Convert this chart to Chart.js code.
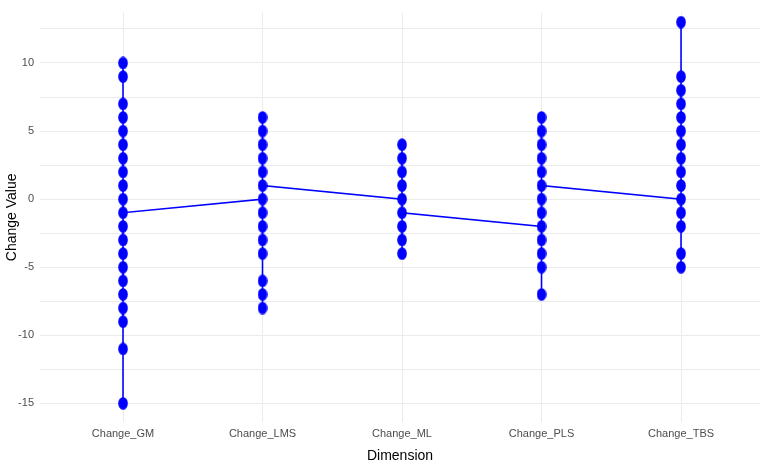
<!DOCTYPE html>
<html>
<head>
<meta charset="utf-8">
<script src="https://cdn.jsdelivr.net/npm/chart.js@4"></script>
<style>
  html, body { margin: 0; padding: 0; background: #fff; }
  #wrap { width: 767px; height: 465px; }
</style>
</head>
<body>
<div id="wrap"><canvas id="chart"></canvas></div>
<script>
// categories on the x axis
var categories = ["Change_GM", "Change_LMS", "Change_ML", "Change_PLS", "Change_TBS"];

// values seen at each category
var gmValues  = [10, 9, 7, 6, 5, 4, 3, 2, 1, 0, -1, -2, -3, -4, -5, -6, -7, -8, -9, -11, -15];
var lmsValues = [6, 5, 4, 3, 2, 1, 0, -1, -2, -3, -4, -6, -7, -8];
var mlValues  = [4, 3, 2, 1, 0, -1, -2, -3, -4];
var plsValues = [6, 5, 4, 3, 2, 1, 0, -1, -2, -3, -4, -5, -7];
var tbsValues = [13, 9, 8, 7, 6, 5, 4, 3, 2, 1, 0, -1, -2, -4, -5];

// where the connecting line enters / leaves each category
var lineEntry = [10, 0, 0, -2, 0];
var lineExit  = [-1, 1, -1, 1, 13];

var yTicks = [-15, -10, -5, 0, 5, 10];

var allValues = [gmValues, lmsValues, mlValues, plsValues, tbsValues];

var points = [];
var path = [];
for (var i = 0; i < categories.length; i++) {
    var vals = allValues[i];
    for (var j = 0; j < vals.length; j++) {
        points.push({x: i, y: vals[j]});
    }
    var mx = Math.max.apply(null, vals);
    var mn = Math.min.apply(null, vals);
    path.push({x: i, y: lineEntry[i]});
    path.push({x: i, y: mx});
    path.push({x: i, y: mn});
    path.push({x: i, y: lineExit[i]});
}

// ellipse shaped marker
var dot = document.createElement("canvas");
dot.width = 10;
dot.height = 13;
var dctx = dot.getContext("2d");
dctx.fillStyle = "#0000ff";
dctx.beginPath();
dctx.ellipse(5, 6.5, 4.8, 6.3, 0, 0, Math.PI * 2);
dctx.fill();

var ctx = document.getElementById("chart");

var chart = new Chart(ctx, {
    type: "scatter",
    data: {
        datasets: [
            {
                label: "line",
                data: path,
                showLine: true,
                borderColor: "#0000ff",
                borderWidth: 1.6,
                pointRadius: 0,
                fill: false,
                order: 1
            },
            {
                label: "points",
                data: points,
                pointStyle: dot,
                pointRadius: 6,
                backgroundColor: "#0000ff",
                borderColor: "#0000ff",
                order: 2
            }
        ]
    },
    options: {
        responsive: true,
        maintainAspectRatio: false,
        animation: false,
        layout: {
            padding: {top: 3, right: 0, left: 0, bottom: 0}
        },
        plugins: {
            legend: {display: false},
            tooltip: {enabled: false}
        },
        scales: {
            x: {
                type: "linear",
                min: -0.595,
                max: 4.566,
                afterBuildTicks: function (scale) {
                    scale.ticks = categories.map(function (c, k) { return {value: k}; });
                },
                afterFit: function (scale) { scale.height = 43; },
                ticks: {
                    color: "#4d4d4d",
                    font: {family: "Liberation Sans", size: 11},
                    padding: 5,
                    maxRotation: 0,
                    callback: function (v) { return categories[v]; }
                },
                grid: {color: "#ebebeb", lineWidth: 1, drawTicks: false},
                border: {display: false},
                title: {
                    display: true,
                    text: "Dimension",
                    color: "#000",
                    font: {family: "Liberation Sans", size: 14},
                    padding: {top: 2, bottom: 0}
                }
            },
            y: {
                min: -16.37,
                max: 13.7,
                afterBuildTicks: function (scale) {
                    var t = [];
                    for (var v = -15; v <= 12.5; v += 2.5) t.push({value: v});
                    scale.ticks = t;
                },
                afterFit: function (scale) { scale.width = 40; },
                ticks: {
                    color: "#4d4d4d",
                    font: {family: "Liberation Sans", size: 11},
                    padding: 6,
                    callback: function (v) { return yTicks.indexOf(v) >= 0 ? String(v) : ""; }
                },
                grid: {color: "#ebebeb", lineWidth: 1, drawTicks: false},
                border: {display: false},
                title: {
                    display: true,
                    text: "Change Value",
                    color: "#000",
                    font: {family: "Liberation Sans", size: 14},
                    padding: {top: 4, bottom: 2}
                }
            }
        }
    }
});
</script>
</body>
</html>
